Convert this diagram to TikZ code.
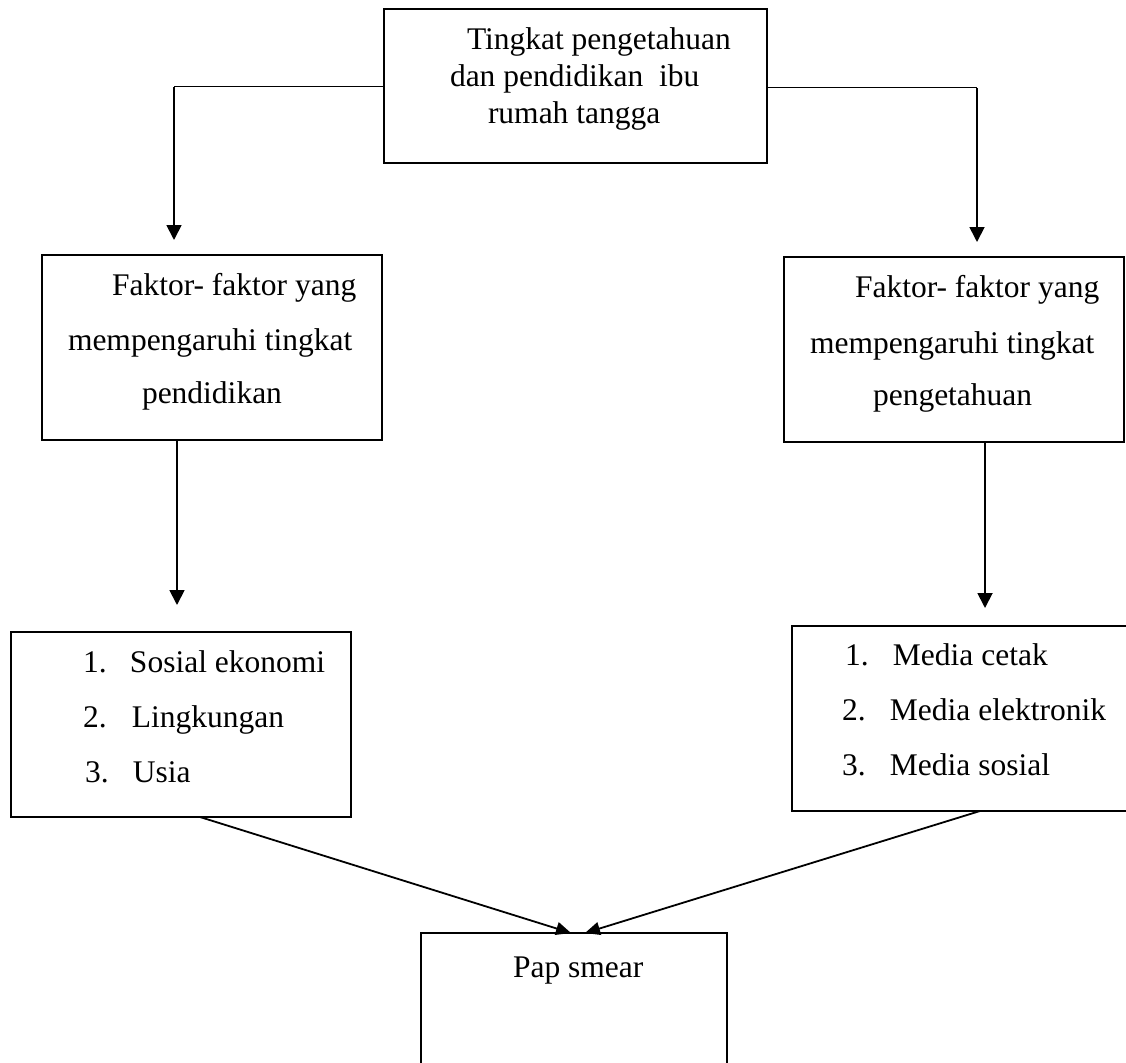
\documentclass[tikz,border=0pt]{standalone}
\usepackage{fontspec}
\setmainfont{Liberation Serif}
\usetikzlibrary{arrows.meta}
\begin{document}
\begin{tikzpicture}[x=1pt,y=-1pt,
  box/.style={draw, line width=2.2pt, rectangle, inner sep=0pt, outer sep=0pt},
  txt/.style={inner sep=0pt, outer sep=0pt, anchor=base west, font=\fontsize{31.5}{37}\selectfont},
  arr/.style={line width=1.8pt, -{Triangle[length=15pt,width=15pt]}},
  darr/.style={line width=1.8pt, -{Triangle[length=15pt,width=13pt]}},
  hline/.style={line width=1pt}]
\useasboundingbox (0,0) rectangle (1126,1062);
\clip (0,0) rectangle (1126,1062);

% boxes
\node[box, minimum width=383pt, minimum height=154pt] (top) at (575.5,86) {};
\node[box, minimum width=340pt, minimum height=185pt] (left2) at (212,347.5) {};
\node[box, minimum width=340pt, minimum height=185pt] (right2) at (954,349.5) {};
\node[box, minimum width=340pt, minimum height=185pt] (left3) at (181,724.5) {};
\node[box, minimum width=348pt, minimum height=185pt] (right3) at (966,718.5) {};
\node[box, minimum width=306pt, minimum height=142pt] (pap) at (574,1004) {};

% texts
\node[txt] (t1) at (467,50) {Tingkat pengetahuan};
\node[txt] (t2) at (450,87) {dan pendidikan\ \ ibu};
\node[txt] (t3) at (488,124) {rumah tangga};

\node[txt] (l1) at (112,295) {Faktor- faktor yang};
\node[txt] (l2) at (68,350) {mempengaruhi tingkat};
\node[txt] (l3) at (142,403) {pendidikan};

\node[txt] (r1) at (855,297) {Faktor- faktor yang};
\node[txt] (r2) at (810,353) {mempengaruhi tingkat};
\node[txt] (r3) at (873,405) {pengetahuan};

\node[txt] (a1) at (83,672) {\makebox[47pt][l]{1.}Sosial ekonomi};
\node[txt] (a2) at (83,727) {\makebox[49pt][l]{2.}Lingkungan};
\node[txt] (a3) at (85,782) {\makebox[48pt][l]{3.}Usia};

\node[txt] (b1) at (845,665) {\makebox[48pt][l]{1.}Media cetak};
\node[txt] (b2) at (842,720) {\makebox[48pt][l]{2.}Media elektronik};
\node[txt] (b3) at (842,775) {\makebox[48pt][l]{3.}Media sosial};

\node[txt] (p1) at (513,977) {Pap smear};

% connectors
\coordinate (cl) at (174,87);
\coordinate (cr) at (977,88);
\draw[hline] (cl -| top.west) -- (cl);
\draw[arr, shorten >=15pt] (cl) -- (cl |- left2.north);
\draw[hline] (cr -| top.east) -- (cr);
\draw[arr, shorten >=15pt] (cr) -- (cr |- right2.north);

\coordinate (vl) at (177,0);
\coordinate (vr) at (985,0);
\draw[arr, shorten >=27pt] (left2.south -| vl) -- (left3.north -| vl);
\draw[arr, shorten >=18pt] (right2.south -| vr) -- (right3.north -| vr);

\draw[darr] ([xshift=19pt]left3.south) -- ([xshift=-3pt]pap.north);
\draw[darr] ([xshift=14pt]right3.south) -- ([xshift=11pt]pap.north);
\end{tikzpicture}
\end{document}
